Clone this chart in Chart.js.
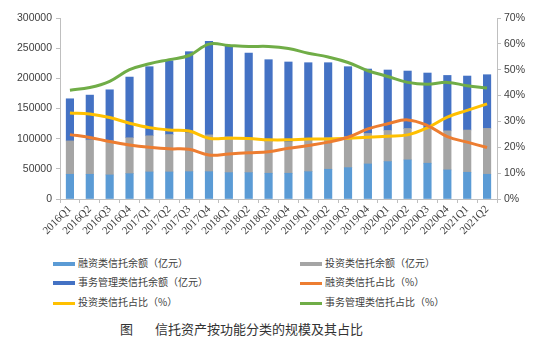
<!DOCTYPE html>
<html>
<head>
<meta charset="utf-8">
<script src="https://cdn.jsdelivr.net/npm/chart.js@4.4.1/dist/chart.umd.min.js"></script>
<style>
  html, body { margin: 0; padding: 0; background: #fff; }
  body { width: 554px; height: 358px; position: relative; overflow: hidden;
         font-family: "Noto Sans CJK SC", "Noto Sans", sans-serif; }
  #wrap { position: absolute; left: 0; top: 0; width: 554px; height: 248px; }
  .legend { position: absolute; left: 0; top: 0; width: 554px; font-size: 10px; color: #404040; }
  .item { position: absolute; height: 14px; line-height: 14px; white-space: nowrap; }
  .item i { display: inline-block; width: 22px; vertical-align: middle; margin-right: 3px; }
  .title { position: absolute; top: 319px; font-size: 13px; color: #333; line-height: 20px; white-space: nowrap; }
</style>
</head>
<body>
<div id="wrap"><canvas id="c"></canvas></div>
<div class="legend" id="legend"></div>
<div class="title" style="left:120px">图</div>
<div class="title" style="left:155px">信托资产按功能分类的规模及其占比</div>
<script>
/* ─── data ─── */
const quarters = ['2016Q1', '2016Q2', '2016Q3', '2016Q4', '2017Q1', '2017Q2', '2017Q3', '2017Q4',
  '2018Q1', '2018Q2', '2018Q3', '2018Q4', '2019Q1', '2019Q2', '2019Q3', '2019Q4',
  '2020Q1', '2020Q2', '2020Q3', '2020Q4', '2021Q1', '2021Q2'];

// 亿元
const financing = [41000, 41000, 39900, 42000, 44800, 44800, 45300, 45300, 43700, 43700, 42700,
  42700, 45300, 49300, 52000, 58100, 62000, 64800, 59300, 48200, 44300, 41000];
const investment = [55300, 57000, 56700, 59500, 60000, 62000, 64300, 61000, 59700, 56600, 52900,
  52000, 52400, 52400, 51500, 50500, 51500, 52000, 58000, 64800, 70000, 76000];
const admin = [69800, 74200, 84400, 100600, 114500, 122400, 134600, 155000, 150700, 141700, 135300,
  132400, 128200, 124200, 115800, 106800, 100300, 95300, 91500, 91800, 89500, 89000];

// %
const financingPct = [24.9, 23.8, 22.2, 20.9, 20.0, 19.4, 19.2, 17.0, 17.4, 17.9, 18.3,
  19.6, 20.7, 22.0, 23.9, 27.1, 29.1, 30.6, 28.4, 24.1, 22.0, 19.9];
const investmentPct = [33.3, 32.9, 31.5, 29.3, 27.6, 26.7, 26.3, 23.5, 23.5, 23.4, 22.9,
  22.9, 23.2, 23.2, 23.5, 23.9, 24.3, 24.8, 27.6, 31.7, 34.3, 36.8];
const adminPct = [42.1, 43.1, 45.5, 50.0, 52.3, 53.9, 55.5, 59.9, 59.4, 59.0, 59.0,
  58.2, 56.4, 54.9, 52.8, 49.6, 47.4, 45.1, 44.4, 45.1, 43.8, 42.9];

const leftTicks = [0, 50000, 100000, 150000, 200000, 250000, 300000];
const rightTicks = [0, 10, 20, 30, 40, 50, 60, 70];

const names = ['融资类信托余额（亿元）', '投资类信托余额（亿元）', '事务管理类信托余额（亿元）',
  '融资类信托占比（%）', '投资类信托占比（%）', '事务管理类信托占比（%）'];
const colors = ['#5B9BD5', '#A5A5A5', '#4472C4', '#ED7D31', '#FFC000', '#70AD47'];

/* ─── helpers ─── */
function bar(i, data) {
  return {
    type: 'bar', label: names[i], data: data, yAxisID: 'y',
    backgroundColor: colors[i], borderWidth: 0,
    barThickness: 7.5, order: 2
  };
}
function line(i, data) {
  return {
    type: 'line', label: names[i], data: data, yAxisID: 'y1',
    borderColor: colors[i], backgroundColor: colors[i], borderWidth: 3,
    pointRadius: 0, tension: 0.4, fill: false, order: 1
  };
}

const axisColor = '#BFBFBF';
const tickFont = { family: '"Liberation Sans", Arial, sans-serif', size: 10.5 };

new Chart(document.getElementById('c'), {
  data: {
    labels: quarters,
    datasets: [
      bar(0, financing), bar(1, investment), bar(2, admin),
      line(3, financingPct), line(4, investmentPct), line(5, adminPct)
    ]
  },
  options: {
    responsive: true,
    maintainAspectRatio: false,
    animation: false,
    layout: { padding: { top: 18, left: 0, right: 0, bottom: 0 } },
    plugins: { legend: { display: false }, tooltip: { enabled: false } },
    scales: {
      x: {
        stacked: true,
        grid: { display: true, drawOnChartArea: false, offset: true, color: axisColor, tickLength: 4 },
        border: { color: axisColor },
        ticks: {
          color: '#404040', autoSkip: false, maxRotation: 45, minRotation: 45, padding: 0,
          font: { family: '"Liberation Serif", "Times New Roman", serif', size: 11 }
        },
        afterFit: function (axis) { axis.height = 49; }
      },
      y: {
        stacked: true, position: 'left', min: 0, max: 300000,
        afterBuildTicks: function (axis) { axis.ticks = leftTicks.map(v => ({ value: v })); },
        grid: { display: true, drawOnChartArea: false, color: axisColor, tickLength: 4 },
        border: { color: axisColor },
        ticks: { color: '#404040', font: tickFont, padding: 4, callback: v => String(v) },
        afterFit: function (axis) { axis.width = 60; }
      },
      y1: {
        position: 'right', min: 0, max: 70,
        afterBuildTicks: function (axis) { axis.ticks = rightTicks.map(v => ({ value: v })); },
        grid: { display: true, drawOnChartArea: false, color: axisColor, tickLength: 4 },
        border: { color: axisColor },
        ticks: { color: '#404040', font: tickFont, padding: 3, callback: v => v + '%' },
        afterFit: function (axis) { axis.width = 57; }
      }
    }
  }
});

/* ─── legend (two columns, drawn as html text) ─── */
const legendPos = [[53, 256], [300, 256], [53, 275], [300, 275], [53, 295], [300, 295]];
const legend = document.getElementById('legend');
names.forEach(function (n, i) {
  const d = document.createElement('div');
  d.className = 'item';
  d.style.left = legendPos[i][0] + 'px';
  d.style.top = legendPos[i][1] + 'px';
  const h = i < 3 ? 4 : 3;
  d.innerHTML = '<i style="height:' + h + 'px;background:' + colors[i] + '"></i>' + n;
  legend.appendChild(d);
});
</script>
</body>
</html>
